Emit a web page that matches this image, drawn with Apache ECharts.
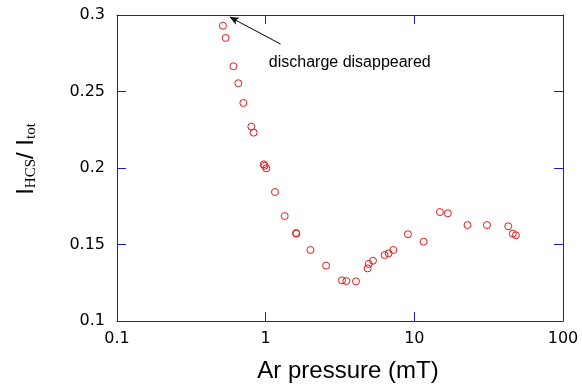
<!DOCTYPE html>
<html><head><meta charset="utf-8">
<script src="https://cdn.jsdelivr.net/npm/echarts@6/dist/echarts.min.js"></script>
<style>html,body{margin:0;padding:0;background:#fff}#c{width:582px;height:391px}</style>
</head><body><div id="c"></div>
<script>
const pressure = [0.516,0.538,0.607,0.655,0.708,0.801,0.830,0.970,0.985,1.01,1.155,1.342,1.60,1.61,2.0,2.55,3.26,3.49,4.05,4.85,4.93,5.27,6.31,6.71,7.22,9.06,11.55,14.86,16.8,22.8,30.8,42.8,46.0,48.2];
const ratio = [0.293,0.285,0.2665,0.2554,0.2425,0.227,0.2231,0.2024,0.2015,0.1998,0.1843,0.1686,0.1575,0.1571,0.1464,0.1362,0.1266,0.1261,0.1259,0.1344,0.1373,0.1394,0.1431,0.1442,0.1464,0.1567,0.1518,0.1712,0.1704,0.1627,0.1627,0.1619,0.1571,0.156];
const xTicks = [0.1,1,10,100];
const yTicks = [0.1,0.15,0.2,0.25,0.3];
const annotationText = 'discharge disappeared';
const arrowFrom = [1.26,0.281];
const arrowTo = [0.573,0.2987];
const textAt = [1.05,0.2686];

const axisColor = '#1a1acf';
const tickFont = {color:'#000', fontSize:16, fontFamily:'DejaVu Sans'};
const chart = echarts.init(document.getElementById('c'), null, {renderer:'canvas'});
const pts = pressure.map((p,i)=>[p, ratio[i]]);
chart.setOption({
  animation:false,
  backgroundColor:'#fff',
  grid:{left:117,right:19,top:15,bottom:70},
  xAxis:[{
    type:'log', logBase:10, min:0.1, max:100,
    axisLine:{lineStyle:{color:axisColor,width:1}},
    axisTick:{inside:true,length:9,lineStyle:{color:axisColor}},
    minorTick:{show:false}, splitLine:{show:false},
    axisLabel:{...tickFont, margin:10, formatter:v=>String(xTicks.find(t=>Math.abs(t-v)/t<1e-6) ?? v)},
    name:'Ar pressure (mT)', nameLocation:'middle', nameGap:38,
    nameTextStyle:{color:'#000',fontSize:24,fontFamily:'Liberation Sans',padding:[0,0,0,16]}
  },{
    type:'log', logBase:10, min:0.1, max:100, position:'top',
    axisLine:{lineStyle:{color:axisColor,width:1}},
    axisTick:{inside:true,length:9,lineStyle:{color:axisColor}},
    axisLabel:{show:false}, splitLine:{show:false}
  }],
  yAxis:[{
    type:'value', min:0.1, max:0.3, interval:0.05,
    axisLine:{show:true,lineStyle:{color:axisColor,width:1}},
    axisTick:{show:true,inside:true,length:9,lineStyle:{color:axisColor}},
    splitLine:{show:false},
    axisLabel:{...tickFont, margin:12, formatter:v=>String(yTicks.find(t=>Math.abs(t-v)<1e-9) ?? v)},
    name:'{a|I}{b|HCS}{a|/ I}{b|tot}', nameLocation:'middle', nameGap:78,
    nameTextStyle:{padding:[0,0,0,18], rich:{
      a:{fontSize:24,fontFamily:'Liberation Sans',color:'#000',lineHeight:26},
      b:{fontSize:15,fontFamily:'Liberation Serif',color:'#000',lineHeight:14,verticalAlign:'bottom',padding:[8,0,0,0]}
    }}
  },{
    type:'value', min:0.1, max:0.3, interval:0.05, position:'right',
    axisLine:{show:true,lineStyle:{color:axisColor,width:1}},
    axisTick:{show:true,inside:true,length:9,lineStyle:{color:axisColor}},
    axisLabel:{show:false}, splitLine:{show:false}
  }],
  series:[{
    type:'scatter', data:pts, symbol:'circle', symbolSize:7,
    itemStyle:{color:'rgba(255,255,255,0)', borderColor:'#e8161b', borderWidth:1, opacity:1},
    markLine:{silent:true, symbol:['none','arrow'], symbolSize:[6,9],
      lineStyle:{color:'#000',width:1,type:'solid'}, label:{show:false},
      data:[[{coord:arrowFrom},{coord:arrowTo}]]},
    markPoint:{silent:true, data:[{coord:textAt, symbol:'circle', symbolSize:0,
      label:{show:true, position:'right', distance:0, formatter:annotationText,
        color:'#000', fontSize:16, fontFamily:'Liberation Sans'}}]}
  }]
});
</script></body></html>
